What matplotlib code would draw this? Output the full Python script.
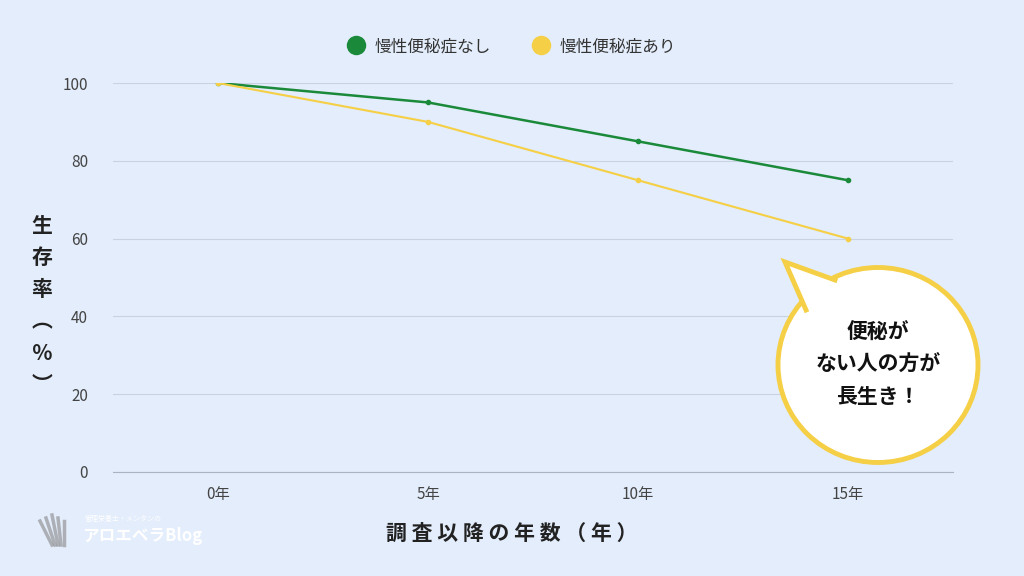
import matplotlib
matplotlib.use("Agg")
import matplotlib.pyplot as plt
from matplotlib.patches import Ellipse, Polygon

plt.rcParams['font.family'] = ['Noto Sans CJK JP', 'DejaVu Sans']

years = ["0年", "5年", "10年", "15年"]
no_constip = [100, 95, 85, 75]
constip = [100, 90, 75, 60]
series_names = ["慢性便秘症なし", "慢性便秘症あり"]
yticks = [0, 20, 40, 60, 80, 100]

bg = "#e3edfb"
green = "#1a8a3a"
yellow = "#f5cf45"

fig = plt.figure(figsize=(10.24, 5.76), dpi=100, facecolor=bg)
ax = fig.add_axes([113/1024, 1-472/576, 840/1024, (472-83)/576])
ax.set_facecolor(bg)
x = list(range(len(years)))
ax.plot(x, no_constip, color=green, lw=1.8, marker='o', ms=3, label=series_names[0])
ax.plot(x, constip, color=yellow, lw=1.5, marker='o', ms=3, label=series_names[1])
ax.set_xlim(-0.5, 3.5)
ax.set_ylim(0, 100)
ax.set_yticks(yticks)
ax.set_xticks(x, years)
ax.grid(axis='y', color='#c8d2e0', lw=0.8)
for s in ['top', 'right', 'left']:
    ax.spines[s].set_visible(False)
ax.spines['bottom'].set_color('#aab4c0')
ax.tick_params(length=0, labelsize=11, colors='#444444', pad=10)
ax.tick_params(axis='y', pad=18)

fig.legend(handles=[plt.Line2D([], [], ls='', marker='o', ms=13, color=green),
                    plt.Line2D([], [], ls='', marker='o', ms=13, color=yellow)],
           labels=series_names, loc='upper center', bbox_to_anchor=(0.5, 0.96), ncol=2,
           frameon=False, fontsize=12, handlelength=1.0, columnspacing=2.5, handletextpad=0.6,
           labelcolor='#333333')

for i, ch in enumerate("生存率︵％︶"):
    fig.text(42/1024, 1-(225+i*32)/576, ch, ha='center', va='center', fontsize=15,
             fontweight='bold', color='#222222')
fig.text(0.5, 1-533/576, "調 査 以 降 の 年 数 （ 年 ）", ha='center', va='center',
         fontsize=15, fontweight='bold', color='#222222')

fa = fig.add_axes([0, 0, 1, 1], facecolor='none')
fa.set_xlim(0, 1024); fa.set_ylim(576, 0); fa.axis('off')
fa.add_patch(Ellipse((878, 365), 200, 195, fc='white', ec=yellow, lw=3.5, zorder=4))
tail = [[806, 310], [785, 262], [835, 280]]
fa.add_patch(Polygon(tail, closed=True, fc='white', ec='none', zorder=5))
fa.plot([tail[0][0], tail[1][0], tail[2][0]], [tail[0][1], tail[1][1], tail[2][1]],
        color=yellow, lw=3.5, zorder=6, solid_joinstyle='miter')
fa.text(878, 364, "便秘が\nない人の方が\n長生き！", ha='center', va='center', fontsize=15,
        fontweight='bold', linespacing=1.7, zorder=7, color='#111111')

fa.text(85, 519, "管理栄養士・メンタンの", fontsize=5, color='white', va='center')
fa.text(82, 536, "アロエベラBlog", fontsize=12, color='white', fontweight='bold', va='center')
for k in range(5):
    fa.plot([52 + k*3, 40 + k*6], [545, 515 + abs(k-2)*3], color='#888888', lw=2.5, alpha=0.6)

fig.savefig("out.png", dpi=100, facecolor=bg)
